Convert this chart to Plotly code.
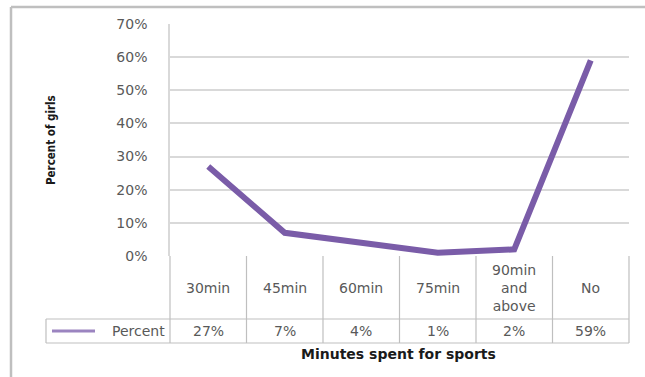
import plotly.graph_objects as go

# Minutes spent on sports by girls
categories = ["30min", "45min", "60min", "75min", "90min<br>and<br>above", "No"]
percent = [0.27, 0.07, 0.04, 0.01, 0.02, 0.59]
value_labels = ["27%", "7%", "4%", "1%", "2%", "59%"]
series_name = "Percent"
y_ticks = [0, 0.1, 0.2, 0.3, 0.4, 0.5, 0.6, 0.7]

W, H = 645, 377
ML, MR, MT, MB = 170, 16, 24, 121
plot_w = W - ML - MR
plot_h = H - MT - MB

PURPLE = "#7A5CA8"
GRID = "#D9D9D9"
BORDER = "#BFBFBF"
TXT = "#595959"
FONT = "DejaVu Sans"


def px_x(p):
    return (p - ML) / plot_w


def px_y(p):
    return (H - MB - p) / plot_h


xs = list(range(len(categories)))

fig = go.Figure()
fig.add_trace(go.Scatter(
    x=xs, y=percent, mode="lines", name=series_name,
    line=dict(color=PURPLE, width=6, shape="linear"),
    showlegend=False, hoverinfo="skip", cliponaxis=False,
))

shapes = []
# outer chart frame (left and top)
shapes.append(dict(type="line", xref="paper", yref="paper",
                   x0=px_x(11), x1=px_x(W), y0=px_y(7), y1=px_y(7),
                   line=dict(color=BORDER, width=2.5)))
shapes.append(dict(type="line", xref="paper", yref="paper",
                   x0=px_x(11), x1=px_x(11), y0=px_y(7), y1=px_y(H),
                   line=dict(color=BORDER, width=2.5)))

# data table grid below the plot
row_header_bottom = px_y(319)
row_values_bottom = px_y(343)
for i in range(len(categories) + 1):
    shapes.append(dict(type="line", xref="paper", yref="paper",
                       x0=i / len(categories), x1=i / len(categories),
                       y0=0, y1=row_values_bottom,
                       line=dict(color=BORDER, width=1.2)))
for yy in (row_header_bottom, row_values_bottom):
    shapes.append(dict(type="line", xref="paper", yref="paper",
                       x0=px_x(46), x1=1, y0=yy, y1=yy,
                       line=dict(color=BORDER, width=1.2)))
shapes.append(dict(type="line", xref="paper", yref="paper",
                   x0=px_x(46), x1=px_x(46), y0=row_header_bottom, y1=row_values_bottom,
                   line=dict(color=BORDER, width=1.2)))
# legend key inside the table
key_y = (row_header_bottom + row_values_bottom) / 2
shapes.append(dict(type="line", xref="paper", yref="paper",
                   x0=px_x(52), x1=px_x(95), y0=key_y, y1=key_y,
                   line=dict(color="#9B84C0", width=3)))

annotations = []
header_mid = row_header_bottom / 2
for i, (c, v) in enumerate(zip(categories, value_labels)):
    annotations.append(dict(x=i, y=header_mid, xref="x", yref="paper",
                            xanchor="center", yanchor="middle",
                            text=c, showarrow=False,
                            font=dict(family=FONT, size=14, color=TXT)))
    annotations.append(dict(x=i, y=key_y, xref="x", yref="paper",
                            xanchor="center", yanchor="middle",
                            text=v, showarrow=False,
                            font=dict(family=FONT, size=14, color=TXT)))
annotations.append(dict(x=px_x(167), y=key_y, xref="paper", yref="paper",
                        text=series_name, showarrow=False,
                        xanchor="right", yanchor="middle",
                        font=dict(family=FONT, size=14, color=TXT)))
annotations.append(dict(x=px_x(398), y=px_y(354), xref="paper", yref="paper",
                        text="<b>Minutes spent for sports</b>", showarrow=False,
                        xanchor="center", yanchor="middle",
                        font=dict(family=FONT, size=14, color="#1A1A1A")))
annotations.append(dict(x=px_x(51), y=px_y(140), xref="paper", yref="paper",
                        text="<b>Percent of girls</b>", showarrow=False, textangle=-90,
                        xanchor="center", yanchor="middle",
                        font=dict(family="DejaVu Sans Condensed", size=11.5, color="#1A1A1A")))

fig.update_layout(
    width=W, height=H,
    margin=dict(l=ML, r=MR, t=MT, b=MB),
    paper_bgcolor="white", plot_bgcolor="white",
    shapes=shapes, annotations=annotations,
    xaxis=dict(range=[-0.5, len(categories) - 0.5], showticklabels=False,
               showgrid=False, zeroline=False, showline=False, fixedrange=True),
    yaxis=dict(range=[0, 0.7], tickvals=y_ticks, tickformat=".0%",
               showgrid=True, gridcolor=GRID, gridwidth=1.5,
               zeroline=False, showline=True, linecolor=GRID, linewidth=1.5,
               ticks="", ticklabelstandoff=18,
               tickfont=dict(family=FONT, size=14, color=TXT)),
)

fig.write_html("out.html")
